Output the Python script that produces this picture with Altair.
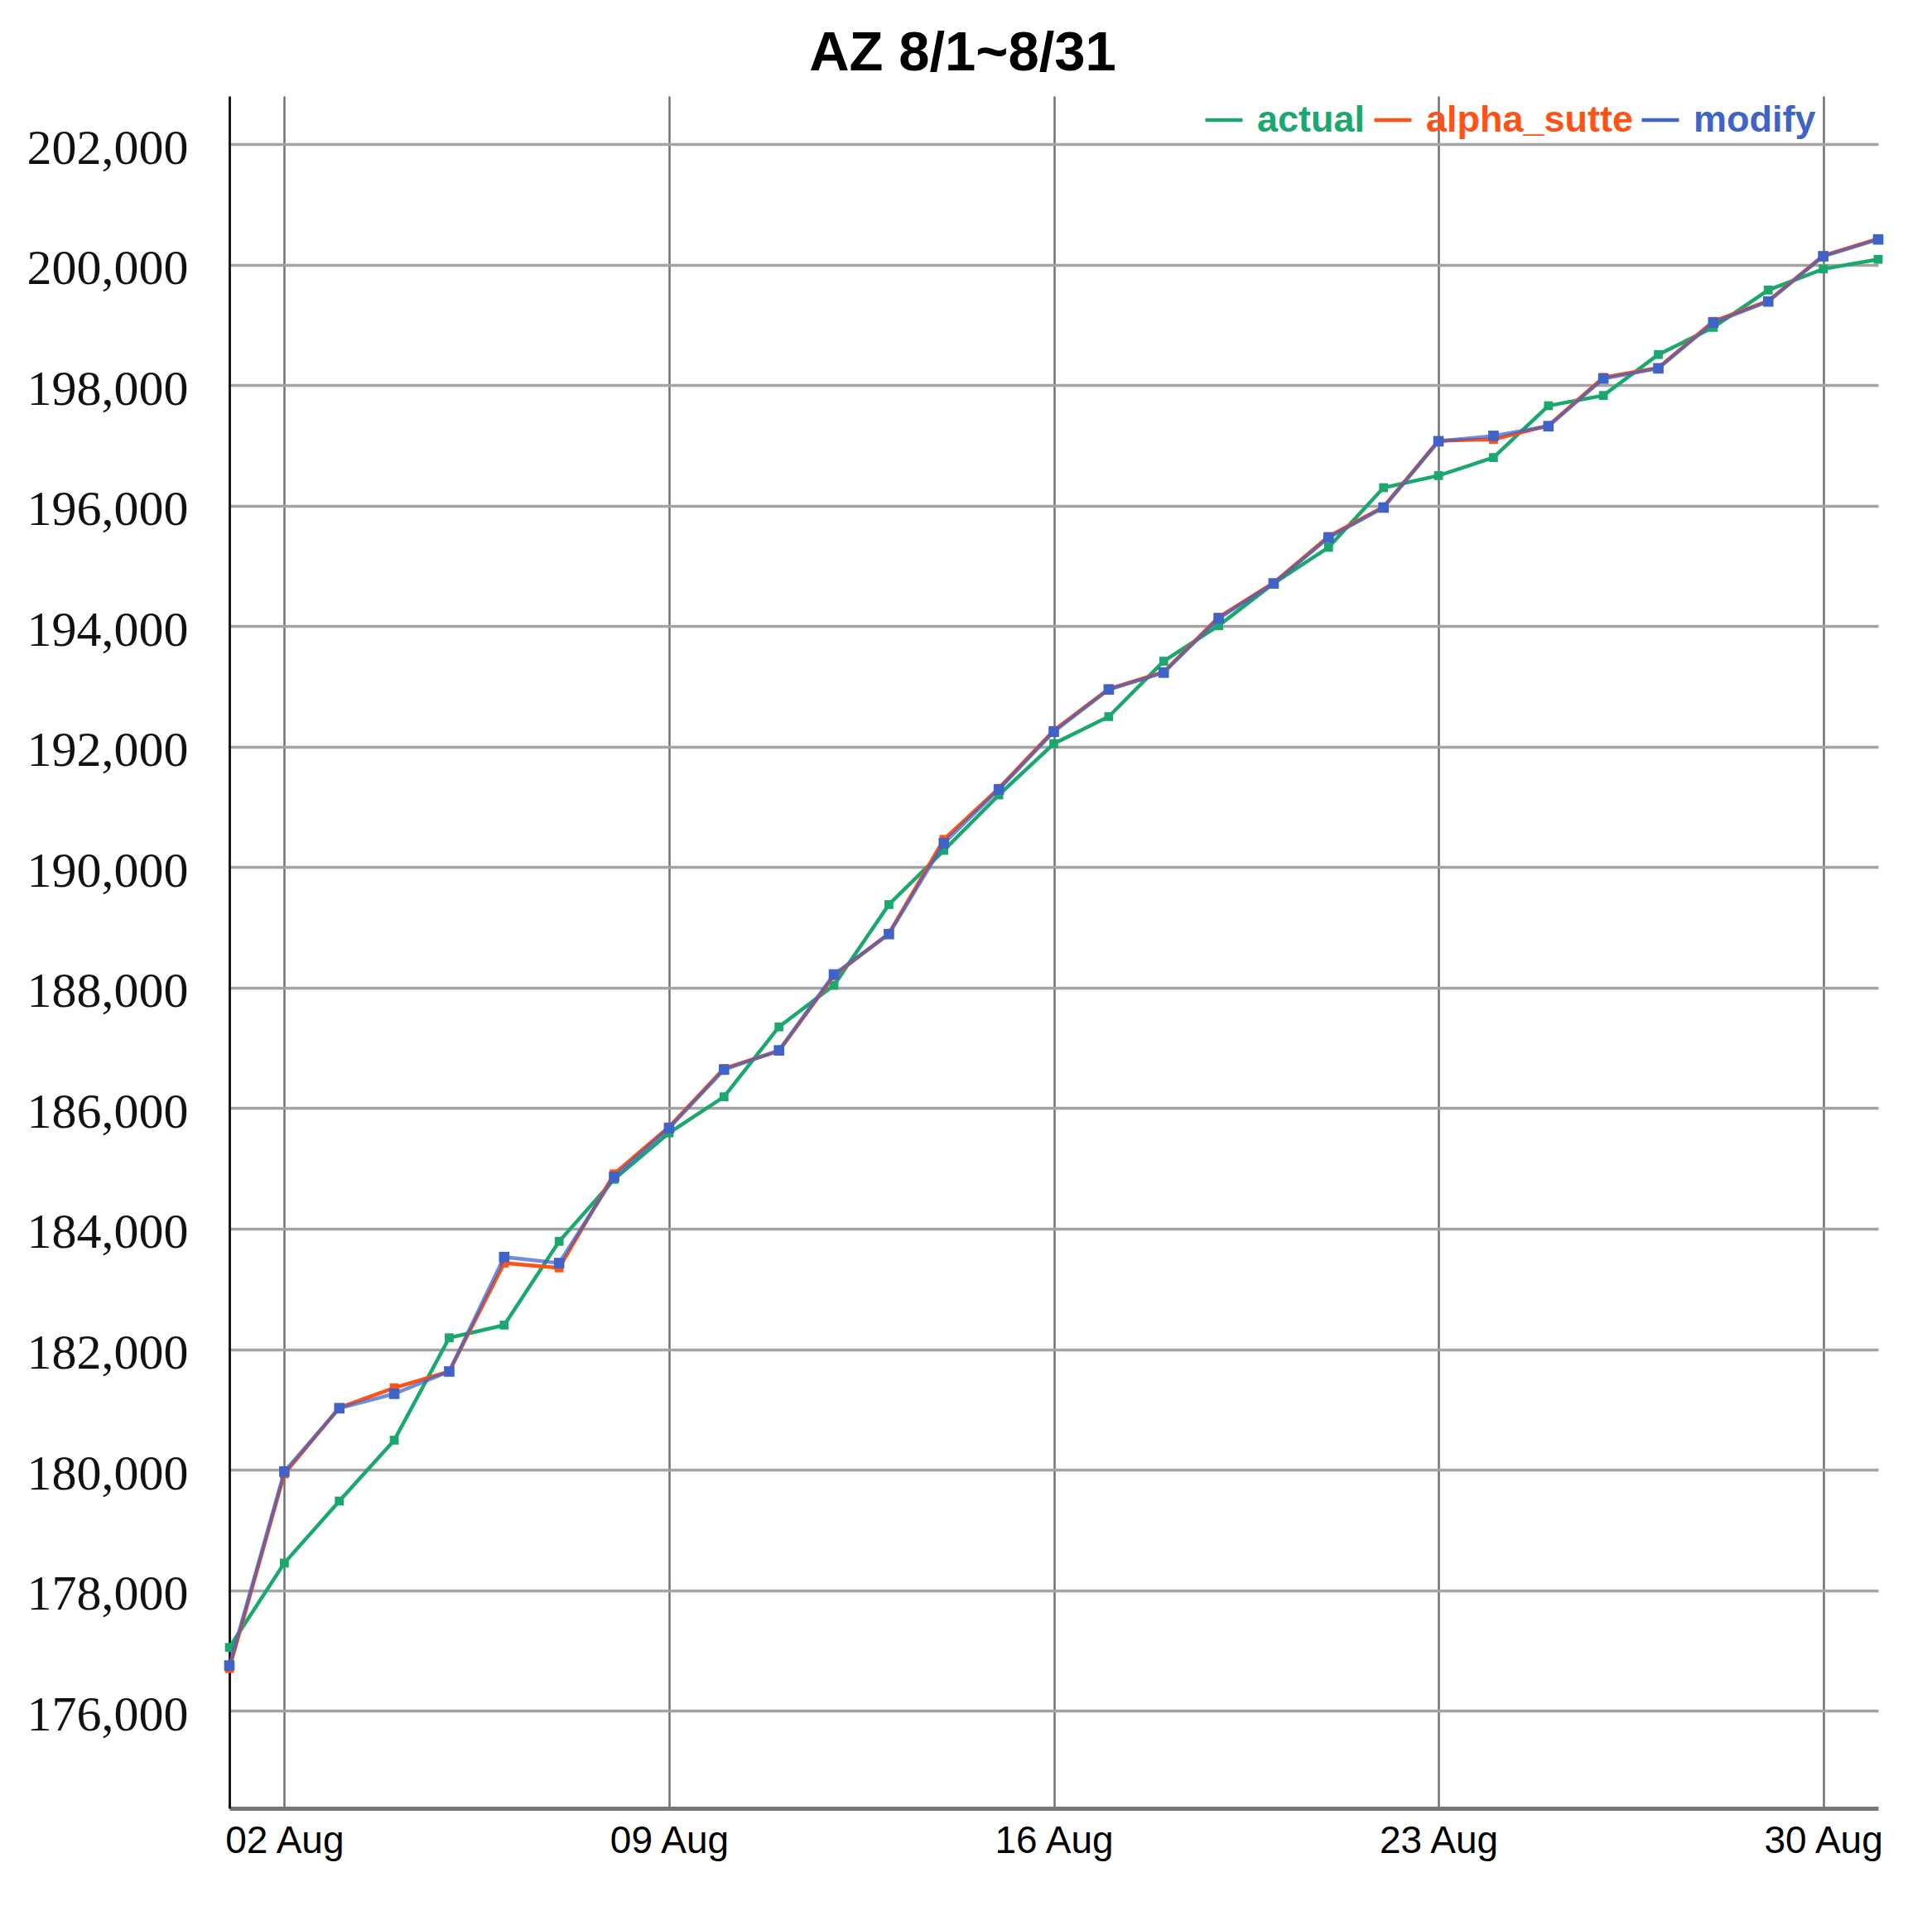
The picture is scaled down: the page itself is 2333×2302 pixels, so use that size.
import altair as alt
import pandas as pd

# ---- data ----
dates = [
    "2020-08-01", "2020-08-02", "2020-08-03", "2020-08-04", "2020-08-05", "2020-08-06",
    "2020-08-07", "2020-08-08", "2020-08-09", "2020-08-10", "2020-08-11", "2020-08-12",
    "2020-08-13", "2020-08-14", "2020-08-15", "2020-08-16", "2020-08-17", "2020-08-18",
    "2020-08-19", "2020-08-20", "2020-08-21", "2020-08-22", "2020-08-23", "2020-08-24",
    "2020-08-25", "2020-08-26", "2020-08-27", "2020-08-28", "2020-08-29", "2020-08-30",
    "2020-08-31",
]

actual = [
    177050, 178450, 179480, 180490, 182190, 182400, 183790, 184820, 185590, 186190,
    187350, 188040, 189380, 190280, 191200, 192050, 192500, 193420, 194010, 194710,
    195310, 196300, 196500, 196800, 197660, 197830, 198510, 198960, 199580, 199930,
    200090,
]

alpha_sutte = [
    176700, 179930, 181030, 181360, 181630, 183430, 183350, 184910, 185690, 186660,
    186950, 188200, 188900, 190460, 191310, 192270, 192960, 193240, 194150, 194720,
    195490, 195980, 197080, 197100, 197330, 198130, 198290, 199060, 199400, 200150,
    200430,
]

modify = [
    176750, 179970, 181020, 181260, 181630, 183530, 183430, 184860, 185670, 186640,
    186960, 188220, 188890, 190400, 191290, 192250, 192950, 193230, 194130, 194710,
    195470, 195970, 197070, 197160, 197320, 198110, 198280, 199040, 199390, 200140,
    200420,
]

series_names = ["actual", "alpha_sutte", "modify"]
series_colors = ["#1aa86f", "#ff5216", "#3f63c6"]

y_ticks = [176000, 178000, 180000, 182000, 184000, 186000, 188000,
           190000, 192000, 194000, 196000, 198000, 200000, 202000]
x_tick_days = [2, 9, 16, 23, 30]

title_text = "AZ 8/1~8/31"

# ---- chart ----
x_axis = alt.Axis(
    values=[alt.DateTime(year=2020, month=8, date=d, utc=True) for d in x_tick_days],
    format="%d %b",
    title=None,
    labelFont="Liberation Sans",
    labelFontSize=46,
    labelColor="#000000",
    labelPadding=17,
    labelFlush=False,
    labelLimit=0,
    ticks=False,
    domainColor="#777777",
    domainWidth=5,
    grid=True,
    gridColor="#707070",
    gridWidth=2.5,
)

y_axis = alt.Axis(
    values=y_ticks,
    format=",d",
    title=None,
    labelFont="Liberation Serif",
    labelFontSize=60,
    labelColor="#111111",
    labelPadding=50,
    labelOffset=5,
    labelLimit=0,
    ticks=False,
    domainColor="#1a1a1a",
    domainWidth=3,
    grid=True,
    gridColor="#a3a3a3",
    gridWidth=3.5,
)

x_scale = alt.Scale(
    type="utc",
    domain=[alt.DateTime(year=2020, month=8, date=1, utc=True),
            alt.DateTime(year=2020, month=8, date=31, utc=True)],
)
y_scale = alt.Scale(domain=[174380, 202800], nice=False, zero=False)

legend_x = [1176, 1380, 1703]
shapes = ["square", "square", "square"]
sizes = [115, 115, 160]
line_opacity = [1.0, 1.0, 0.72]

values_by_series = [actual, alpha_sutte, modify]

layers = []
for name, vals, col, lx, shp, sz, op in zip(series_names, values_by_series, series_colors,
                                            legend_x, shapes, sizes, line_opacity):
    df = pd.DataFrame({"date": dates, "value": vals, "series": name})
    layer = alt.Chart(df).mark_line(
        strokeWidth=4.5,
        opacity=op,
        point=alt.OverlayMarkDef(shape=shp, size=sz, filled=True, opacity=1),
    ).encode(
        x=alt.X("date:T", scale=x_scale, axis=x_axis),
        y=alt.Y("value:Q", scale=y_scale, axis=y_axis),
        color=alt.Color(
            "series:N",
            scale=alt.Scale(domain=[name], range=[col]),
            legend=alt.Legend(
                orient="none",
                legendX=lx,
                legendY=4,
                direction="horizontal",
                title=None,
                padding=0,
                symbolType="stroke",
                symbolSize=2025,
                symbolStrokeWidth=4.5,
                symbolOpacity=1,
                labelFont="Liberation Sans",
                labelFontSize=45,
                labelFontWeight="bold",
                labelColor=col,
                labelOffset=15,
                labelLimit=0,
            ),
        ),
    )
    layers.append(layer)

chart = alt.layer(*layers).resolve_scale(color="independent").properties(
    width=1991,
    height=2068,
    title=alt.TitleParams(
        title_text,
        font="Liberation Sans",
        fontSize=67,
        fontWeight="bold",
        color="#000000",
        anchor="middle",
        dx=-110,
        offset=17,
    ),
    autosize=alt.AutoSizeParams(type="none"),
    padding={"left": 269, "top": 108, "right": 50, "bottom": 110},
).configure_view(stroke=None)

chart.save("out.html", embed_options={"renderer": "svg", "actions": False})
